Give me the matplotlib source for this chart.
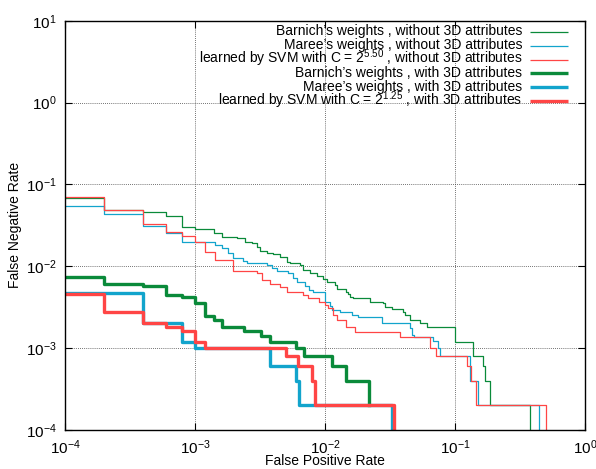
import numpy as np
import matplotlib
matplotlib.use("Agg")
import matplotlib.pyplot as plt
from matplotlib.ticker import FixedLocator, NullLocator

plt.rcParams['font.family'] = ['Liberation Sans', 'DejaVu Sans']
plt.rcParams['mathtext.default'] = 'regular'

# DET curves: fpr = where each step starts, fnr = level of that step
# (a 0 at the end means the curve falls off the bottom of the log axis)
fpr_barnich = [1e-4, 2e-4, 4e-4, 6e-4, 8e-4, 1e-3, 1.40e-3, 1.60e-3, 2.09e-3, 2.43e-3,
               2.73e-3, 2.99e-3, 3.16e-3, 3.56e-3, 4.0e-3, 4.5e-3, 5.07e-3, 5.38e-3,
               6.43e-3, 6.81e-3, 7.67e-3, 8.63e-3, 9.7e-3, 0.0103, 0.0119, 0.0123,
               0.0145, 0.0149, 0.0156, 0.0165, 0.0222, 0.0281, 0.029, 0.0326, 0.040,
               0.0412, 0.0451, 0.0538, 0.0612, 0.100, 0.138, 0.165, 0.170, 0.186, 0.378]
fnr_barnich = [0.0675, 0.0485, 0.0455, 0.041, 0.0303, 0.0282, 0.0256, 0.0229, 0.0219, 0.0199,
               0.0191, 0.0173, 0.0155, 0.0146, 0.0141, 0.0131, 0.01135, 0.01084,
               0.01035, 0.0090, 0.00834, 0.00759, 0.00698, 0.00647, 0.00589, 0.00522,
               0.00489, 0.00458, 0.00425, 0.00406, 0.00369, 0.00359, 0.00321, 0.00298, 0.00279,
               0.00254, 0.0022, 0.00204, 0.00179, 0.0012, 0.0008, 0.0006, 0.0004, 0.0002, 0]

fpr_maree = [1e-4, 2e-4, 4e-4, 6e-4, 8e-4, 1.43e-3, 1.60e-3, 1.80e-3, 1.97e-3, 2.36e-3,
             2.50e-3, 3.56e-3, 3.89e-3, 4.25e-3, 5.22e-3, 5.70e-3, 6.05e-3, 7.02e-3,
             7.57e-3, 8.13e-3, 0.010, 0.0109, 0.0113, 0.0130, 0.0160, 0.0180, 0.0273,
             0.0451, 0.0465, 0.0486, 0.0681, 0.0745, 0.077, 0.130, 0.149, 0.443]
fnr_maree = [0.0548, 0.0434, 0.0312, 0.0256, 0.0196, 0.0182, 0.0166, 0.0146, 0.0125, 0.0117,
             0.0110, 0.01035, 0.0094, 0.0088, 0.0082, 0.0071, 0.00647, 0.00573,
             0.00512, 0.00489, 0.00369, 0.00327, 0.00292, 0.00279, 0.00254, 0.00242, 0.00204,
             0.00174, 0.00145, 0.00138, 0.00123, 0.0010, 0.0008, 0.0004, 0.0002, 0]

fpr_svm = [1e-4, 2e-4, 4e-4, 6e-4, 8e-4, 1e-3, 1.19e-3, 1.43e-3, 1.97e-3, 2.99e-3,
           3.26e-3, 3.78e-3, 4.51e-3, 5.07e-3, 6.81e-3, 7.45e-3, 9.0e-3, 0.010,
           0.0106, 0.0116, 0.0123, 0.0145, 0.0170, 0.0378, 0.0643, 0.0714, 0.124,
           0.132, 0.144, 0.50]
fnr_svm = [0.0693, 0.0485, 0.0333, 0.0264, 0.0236, 0.0199, 0.0150, 0.0119, 0.00873, 0.00818,
           0.00679, 0.00607, 0.00552, 0.00489, 0.00445, 0.00406, 0.00369, 0.00336,
           0.00306, 0.00254, 0.0022, 0.00179, 0.00158, 0.00138, 0.0010, 0.0008, 0.0006,
           0.0004, 0.0002, 0]

fpr_barnich_3d = [1e-4, 2e-4, 4e-4, 6e-4, 8e-4, 1e-3, 1.2e-3, 1.4e-3, 1.6e-3, 2.4e-3,
                  3.2e-3, 3.8e-3, 6.0e-3, 6.9e-3, 0.0113, 0.0145, 0.0219]
fnr_barnich_3d = [0.0074, 0.0061, 0.0057, 0.0044, 0.0042, 0.0036, 0.0025, 0.0022, 0.0018, 0.0016,
                  0.0014, 0.0012, 0.0010, 0.0008, 0.0006, 0.0004, 0.0002]

fpr_maree_3d = [1e-4, 4e-4, 8e-4, 1e-3, 3.8e-3, 6.0e-3, 6.3e-3, 0.033]
fnr_maree_3d = [0.0047, 0.0020, 0.0012, 0.0010, 0.0006, 0.0004, 0.0002, 0]

fpr_svm_3d = [1e-4, 2e-4, 4e-4, 6e-4, 8e-4, 1e-3, 1.2e-3, 5.0e-3, 6.2e-3, 7.9e-3, 8.4e-3, 0.034]
fnr_svm_3d = [0.0046, 0.0028, 0.0020, 0.0018, 0.0016, 0.0012, 0.0010, 0.0008, 0.0006, 0.0004, 0.0002, 0]

labels = ["Barnich\u2019s weights , without 3D attributes",
          "Maree\u2019s weights , without 3D attributes",
          "learned by SVM with C = 2$^{5.50}$ , without 3D attributes",
          "Barnich\u2019s weights , with 3D attributes",
          "Maree\u2019s weights , with 3D attributes",
          "learned by SVM with C = 2$^{1.25}$ , with 3D attributes"]

green = '#0a8a3a'
blue = '#12a4cc'
red = '#ff4545'

curves = [(fpr_barnich, fnr_barnich, green, 0.9),
          (fpr_maree, fnr_maree, blue, 0.9),
          (fpr_svm, fnr_svm, red, 0.9),
          (fpr_barnich_3d, fnr_barnich_3d, green, 2.4),
          (fpr_maree_3d, fnr_maree_3d, blue, 2.4),
          (fpr_svm_3d, fnr_svm_3d, red, 2.4)]

fig = plt.figure(figsize=(5.96, 4.69), dpi=100)
ax = fig.add_axes([65 / 596, 1 - 430 / 469, 520 / 596, 409.3 / 469])

for x, y, c, lw in curves:
    y = np.array(y, dtype=float)
    y[y == 0] = 1e-6  # zero drops below the axis
    ax.plot(x, y, drawstyle='steps-post', color=c, lw=lw)

ax.set_xscale('log')
ax.set_yscale('log')
ax.set_xlim(1e-4, 1)
ax.set_ylim(1e-4, 10)

xt = [1e-4, 1e-3, 1e-2, 1e-1, 1]
yt = [1e-4, 1e-3, 1e-2, 1e-1, 1, 10]
ax.xaxis.set_major_locator(FixedLocator(xt))
ax.yaxis.set_major_locator(FixedLocator(yt))
ax.xaxis.set_minor_locator(NullLocator())
ax.yaxis.set_minor_locator(NullLocator())
ax.set_xticklabels(['$10^{-4}$', '$10^{-3}$', '$10^{-2}$', '$10^{-1}$', '$10^{0}$'])
ax.set_yticklabels(['$10^{-4}$', '$10^{-3}$', '$10^{-2}$', '$10^{-1}$', '$10^{0}$', '$10^{1}$'])
ax.tick_params(direction='in', length=5, width=0.8, top=True, right=True,
               labelsize=11, pad=6)

ax.grid(True, which='major', color='#444444', linestyle=(0, (1, 1.5)), linewidth=0.6)
for s in ax.spines.values():
    s.set_linewidth(1.0)

ax.set_xlabel('False Positive Rate', fontsize=10)
ax.xaxis.set_label_coords(0.5, -0.058)
ax.set_ylabel('False Negative Rate', fontsize=10)
ax.yaxis.set_label_coords(-0.083, 0.5)

# gnuplot-style key: text right-aligned, sample line to its right, fixed row pitch
key_top = 0.9736
key_step = 0.0342
for i, ((x, y, c, lw), lab) in enumerate(zip(curves, labels)):
    yk = key_top - i * key_step
    ax.text(0.879, yk - 0.0088, lab, transform=ax.transAxes, ha='right',
            va='baseline', fontsize=10)
    ax.plot([0.894, 0.967], [yk, yk], transform=ax.transAxes, color=c, lw=lw,
            clip_on=False, solid_capstyle='butt')

fig.savefig('out.png', dpi=100)
